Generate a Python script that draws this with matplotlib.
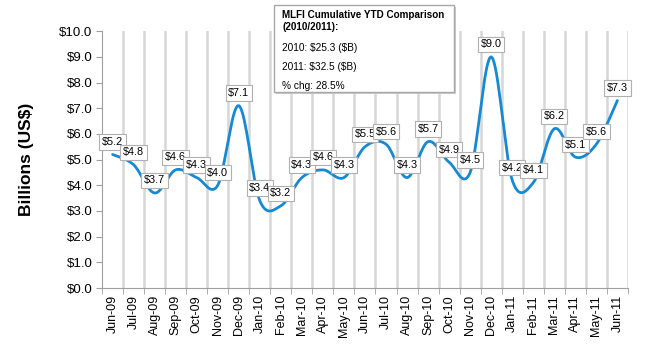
import matplotlib
matplotlib.use('Agg')
import matplotlib.pyplot as plt
import numpy as np

plt.rcParams['font.family'] = ['Liberation Sans', 'DejaVu Sans']

months = ['Jun-09', 'Jul-09', 'Aug-09', 'Sep-09', 'Oct-09', 'Nov-09', 'Dec-09',
          'Jan-10', 'Feb-10', 'Mar-10', 'Apr-10', 'May-10', 'Jun-10', 'Jul-10',
          'Aug-10', 'Sep-10', 'Oct-10', 'Nov-10', 'Dec-10', 'Jan-11', 'Feb-11',
          'Mar-11', 'Apr-11', 'May-11', 'Jun-11']
values = [5.2, 4.8, 3.7, 4.6, 4.3, 4.0, 7.1, 3.4, 3.2, 4.3, 4.6, 4.3, 5.5, 5.6,
          4.3, 5.7, 4.9, 4.5, 9.0, 4.2, 4.1, 6.2, 5.1, 5.6, 7.3]
yticks = [0, 1, 2, 3, 4, 5, 6, 7, 8, 9, 10]
box_title = 'MLFI Cumulative YTD Comparison\n(2010/2011):'
box_lines = ['2010: \\$25.3 (\\$B)', '2011: \\$32.5 (\\$B)', '% chg: 28.5%']

blue = '#1589d4'


def smooth(x, y, n=20):
    # Catmull-Rom style smoothing like the spreadsheet "smoothed line"
    x = np.asarray(x, float)
    y = np.asarray(y, float)
    px = np.concatenate([[x[0]], x, [x[-1]]])
    py = np.concatenate([[y[0]], y, [y[-1]]])
    xs, ys = [], []
    t = np.linspace(0, 1, n)
    for i in range(1, len(px) - 2):
        p0, p1, p2, p3 = py[i - 1], py[i], py[i + 1], py[i + 2]
        q0, q1, q2, q3 = px[i - 1], px[i], px[i + 1], px[i + 2]
        b1y = p1 + (p2 - p0) / 6
        b2y = p2 - (p3 - p1) / 6
        b1x = q1 + (q2 - q0) / 6
        b2x = q2 - (q3 - q1) / 6
        xs.append((1-t)**3*q1 + 3*(1-t)**2*t*b1x + 3*(1-t)*t**2*b2x + t**3*q2)
        ys.append((1-t)**3*p1 + 3*(1-t)**2*t*b1y + 3*(1-t)*t**2*b2y + t**3*p2)
    return np.concatenate(xs), np.concatenate(ys)


fig = plt.figure(figsize=(6.5, 3.5), dpi=100)
ax = fig.add_axes([0.157, 0.177, 0.809, 0.734])

xpos = np.arange(len(months))
for k in range(1, len(months) + 1):
    ax.axvline(k - 0.5, color='#d6d6d6', lw=1.8, zorder=0)

sx, sy = smooth(xpos, values)
ax.plot(sx, sy, color=blue, lw=2.0, zorder=2, solid_capstyle='round')

for x, v in zip(xpos, values):
    ax.annotate('$%.1f' % v, (x, v), xytext=(0, 9), textcoords='offset points',
                ha='center', va='center', fontsize=7.8, zorder=3,
                bbox=dict(boxstyle='square,pad=0.25', fc='white', ec='#b0b0b0', lw=0.8))

ax.set_xlim(-0.5, len(months) - 0.5)
ax.set_ylim(0, 10)
ax.set_yticks(yticks)
ax.set_yticklabels(['$%.1f' % t for t in yticks], fontsize=9.5)
ax.set_xticks(xpos)
ax.set_xticklabels(months, rotation=90, fontsize=9)
ax.set_xticks(np.arange(len(months) + 1) - 0.5, minor=True)
ax.tick_params(axis='x', which='major', length=0, pad=5)
ax.tick_params(axis='x', which='minor', length=4, color='#a0a0a0')
ax.tick_params(axis='y', length=4, color='#a0a0a0', pad=3)
for s in ['top', 'right']:
    ax.spines[s].set_visible(False)
for s in ['left', 'bottom']:
    ax.spines[s].set_color('#a0a0a0')
ax.set_ylabel('Billions (US$)', fontsize=12.5, fontweight='bold', labelpad=18)

# tooltip style summary box
bx0, by0, bx1, by1 = 274 / 650, 1 - 92 / 350, 454 / 650, 1 - 5 / 350
fig.patches.append(plt.Rectangle((bx0 + 0.003, by0 - 0.006), bx1 - bx0, by1 - by0,
                                 transform=fig.transFigure, fc='#cccccc', ec='none', zorder=4))
fig.patches.append(plt.Rectangle((bx0, by0), bx1 - bx0, by1 - by0,
                                 transform=fig.transFigure, fc='white', ec='#a8a8a8',
                                 lw=1.0, zorder=5))
fig.text(bx0 + 0.013, 1 - 10 / 350, box_title, fontsize=7.1, fontweight='bold',
         va='top', ha='left', zorder=6, linespacing=1.2)
for i, line in enumerate(box_lines):
    fig.text(bx0 + 0.013, 1 - (48 + i * 19) / 350, line, fontsize=7.3,
             va='center', ha='left', zorder=6)

fig.savefig('out.png', dpi=100)
